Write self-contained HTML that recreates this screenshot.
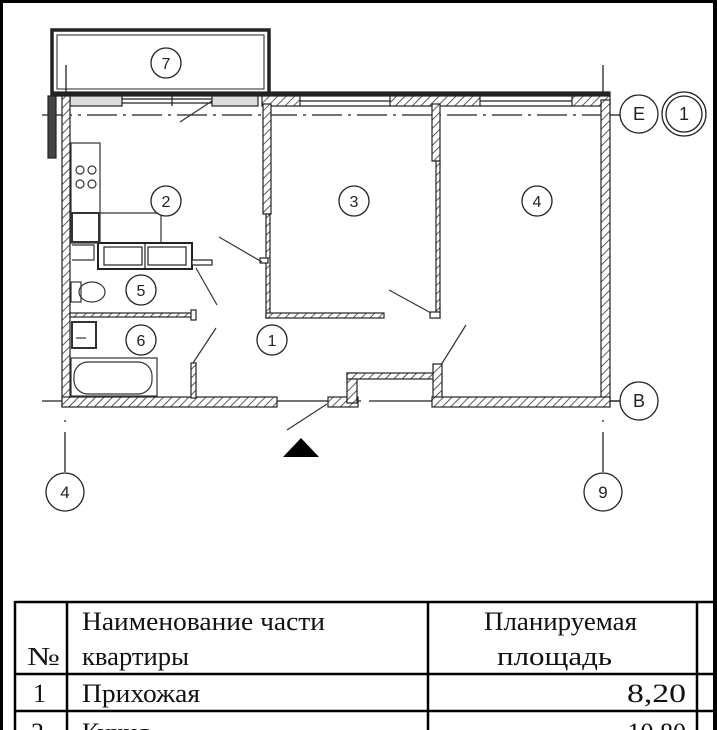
<!DOCTYPE html>
<html><head><meta charset="utf-8"><style>
html,body{margin:0;padding:0;background:#fff}
body{width:717px;height:730px;position:relative;overflow:hidden}
svg{position:absolute;left:0;top:0}
.t{font-family:"Liberation Serif",serif;font-size:26px;fill:#111}
.c{font-family:"Liberation Sans",sans-serif;font-size:16px;fill:#222;text-anchor:middle}
</style></head><body>
<svg width="717" height="730" viewBox="0 0 717 730">
<defs>
<pattern id="h" width="6" height="6" patternUnits="userSpaceOnUse" patternTransform="rotate(45)">
<rect width="6" height="6" fill="#fff"/><line x1="0" y1="0" x2="0" y2="6" stroke="#333" stroke-width="1.6"/>
</pattern>
</defs>
<rect x="0" y="0" width="717" height="3" fill="#000"/>
<rect x="0" y="0" width="3" height="730" fill="#000"/>
<rect x="713" y="0" width="4" height="730" fill="#000"/>

<g stroke="#222" fill="none" stroke-width="1.3">
<rect x="52" y="30" width="217" height="64" stroke-width="3.5"/>
<rect x="57" y="35" width="207" height="54" stroke-width="1"/>
<line x1="66" y1="65" x2="66" y2="115"/>
<line x1="42" y1="115" x2="620" y2="115" stroke-dasharray="30,6,3,6"/>
<line x1="42" y1="401" x2="620" y2="401" stroke-dasharray="90,8,3,8"/>
<line x1="65" y1="420" x2="65" y2="474" stroke-dasharray="2,10,40"/>
<line x1="603" y1="65" x2="603" y2="100"/>
<line x1="603" y1="420" x2="603" y2="474" stroke-dasharray="2,10,40"/>
<line x1="610" y1="115" x2="620" y2="115"/>
<line x1="610" y1="401" x2="620" y2="401"/>
</g>

<g stroke="#222" stroke-width="1.2">
<rect x="52" y="92" width="558" height="4" fill="#222"/>
<rect x="70" y="96" width="52" height="10" fill="#ddd"/>
<rect x="212" y="96" width="46" height="10" fill="#ddd"/>
<rect x="262" y="96" width="38" height="10" fill="url(#h)"/>
<rect x="390" y="96" width="90" height="10" fill="url(#h)"/>
<rect x="572" y="96" width="38" height="10" fill="url(#h)"/>
<line x1="122" y1="99" x2="212" y2="99"/><line x1="122" y1="103" x2="212" y2="103"/>
<line x1="300" y1="101" x2="390" y2="101"/><line x1="300" y1="106" x2="390" y2="106"/>
<line x1="480" y1="101" x2="572" y2="101"/><line x1="480" y1="106" x2="572" y2="106"/>
<line x1="172" y1="96" x2="172" y2="106"/>
<rect x="48" y="96" width="8" height="62" fill="#444"/>
<rect x="62" y="96" width="8" height="310" fill="url(#h)"/>
<rect x="601" y="100" width="9" height="306" fill="url(#h)"/>
<rect x="263" y="104" width="8" height="110" fill="url(#h)"/>
<rect x="266" y="214" width="4" height="104" fill="url(#h)"/>
<rect x="266" y="313" width="118" height="5" fill="url(#h)"/>
<rect x="260" y="258" width="8" height="5" fill="#fff"/>
<rect x="432" y="104" width="8" height="57" fill="url(#h)"/>
<rect x="436" y="161" width="4" height="157" fill="url(#h)"/>
<rect x="430" y="312" width="10" height="6" fill="#fff"/>
<rect x="62" y="397" width="215" height="10" fill="url(#h)"/>
<rect x="328" y="397" width="30" height="10" fill="url(#h)"/>
<rect x="347" y="373" width="10" height="30" fill="url(#h)"/>
<rect x="347" y="373" width="95" height="6" fill="url(#h)"/>
<rect x="433" y="364" width="9" height="40" fill="url(#h)"/>
<rect x="432" y="397" width="178" height="10" fill="url(#h)"/>
<rect x="70" y="313" width="125" height="4" fill="url(#h)"/>
<rect x="191" y="310" width="5" height="10" fill="#fff"/>
<rect x="191" y="363" width="5" height="35" fill="url(#h)"/>
<rect x="98" y="243" width="94" height="26" fill="#fff" stroke-width="2"/>
<rect x="104" y="247" width="38" height="18" fill="#fff"/>
<rect x="148" y="247" width="38" height="18" fill="#fff"/>
<line x1="145" y1="243" x2="145" y2="269"/>
<rect x="192" y="260" width="20" height="5" fill="#fff"/>
</g>

<g stroke="#333" fill="none" stroke-width="1.2">
<rect x="71" y="143" width="29" height="100"/>
<circle cx="80" cy="170" r="4"/><circle cx="92" cy="170" r="4"/>
<circle cx="80" cy="184" r="4"/><circle cx="92" cy="184" r="4"/>
<rect x="72" y="213" width="27" height="29" stroke-width="2"/>
<line x1="100" y1="213" x2="161" y2="213"/>
<line x1="161" y1="213" x2="161" y2="243"/>
<path d="M72 245 h22 v15 h-22"/>
<rect x="71" y="282" width="10" height="20"/>
<ellipse cx="92" cy="292" rx="13" ry="10"/>
<rect x="72" y="322" width="24" height="26" stroke-width="2"/>
<line x1="76" y1="338" x2="86" y2="338"/>
<rect x="71" y="358" width="86" height="38"/>
<rect x="74" y="362" width="78" height="32" rx="14"/>
<line x1="219" y1="237" x2="262" y2="262"/>
<line x1="389" y1="290" x2="431" y2="313"/>
<line x1="466" y1="325" x2="441" y2="365"/>
<line x1="196" y1="268" x2="217" y2="305"/>
<line x1="216" y1="328" x2="193" y2="363"/>
<line x1="327" y1="404" x2="287" y2="430"/>
<line x1="212" y1="101" x2="180" y2="122"/>
</g>
<polygon points="301,438 283,457 319,457" fill="#000"/>

<g stroke="#222" fill="#fff" stroke-width="1.3">
<circle cx="166" cy="63" r="15"/>
<circle cx="166" cy="201" r="15"/>
<circle cx="354" cy="201" r="15"/>
<circle cx="537" cy="201" r="15"/>
<circle cx="141" cy="290" r="15"/>
<circle cx="141" cy="340" r="15"/>
<circle cx="272" cy="340" r="15"/>
<circle cx="639" cy="114" r="19"/>
<circle cx="684" cy="114" r="22"/>
<circle cx="684" cy="114" r="18"/>
<circle cx="639" cy="401" r="19"/>
<circle cx="65" cy="492" r="19"/>
<circle cx="603" cy="492" r="19"/>
</g>
<g class="c">
<text x="166" y="69">7</text><text x="166" y="207">2</text>
<text x="354" y="207">3</text><text x="537" y="207">4</text>
<text x="141" y="296">5</text><text x="141" y="346">6</text>
<text x="272" y="346">1</text>
<text x="639" y="120" font-size="18">E</text>
<text x="684" y="120" font-size="18">1</text>
<text x="639" y="407" font-size="18">B</text>
<text x="65" y="498" font-size="17">4</text>
<text x="603" y="498" font-size="17">9</text>
</g>

<g stroke="#000" stroke-width="2.5" fill="none">
<line x1="15" y1="602" x2="713" y2="602"/>
<line x1="15" y1="674" x2="713" y2="674"/>
<line x1="15" y1="711" x2="713" y2="711"/>
<line x1="15" y1="601" x2="15" y2="730"/>
<line x1="67" y1="601" x2="67" y2="730"/>
<line x1="428" y1="601" x2="428" y2="730"/>
<line x1="697" y1="601" x2="697" y2="730"/>
</g>
<g class="t">
<text x="82" y="630" textLength="243" lengthAdjust="spacingAndGlyphs">Наименование части</text>
<text x="82" y="665" textLength="107" lengthAdjust="spacingAndGlyphs">квартиры</text>
<text x="27" y="665" textLength="33" lengthAdjust="spacingAndGlyphs">№</text>
<text x="484" y="630" textLength="153" lengthAdjust="spacingAndGlyphs">Планируемая</text>
<text x="497" y="665" textLength="115" lengthAdjust="spacingAndGlyphs">площадь</text>
<text x="33" y="702">1</text>
<text x="82" y="702" textLength="118" lengthAdjust="spacingAndGlyphs">Прихожая</text>
<text x="627" y="702" textLength="59" lengthAdjust="spacingAndGlyphs">8,20</text>
<text x="31" y="741">2</text>
<text x="82" y="741">Кухня</text>
<text x="686" y="741" text-anchor="end">10,80</text>
</g>
</svg>
</body></html>
